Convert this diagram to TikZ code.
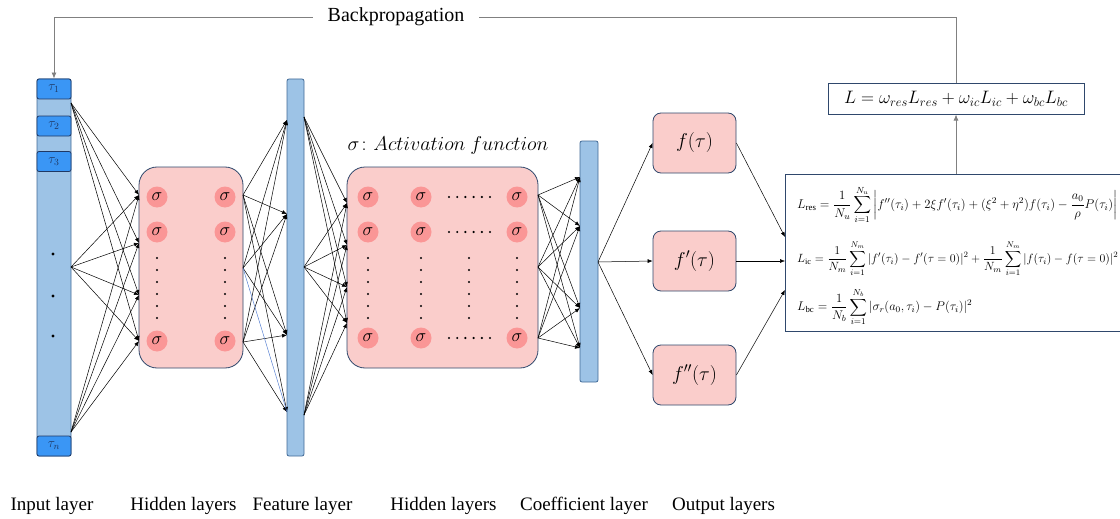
\RequirePackage{fix-cm}
\documentclass[tikz,border=0pt]{standalone}
\usepackage{amsmath}
\usepackage{graphicx}
\usepackage{fontspec}
\setmainfont{Liberation Serif}
\usetikzlibrary{arrows.meta,calc}
\definecolor{barfill}{RGB}{157,195,230}
\definecolor{bardraw}{RGB}{65,105,150}
\definecolor{taufill}{RGB}{58,150,245}
\definecolor{taudraw}{RGB}{31,56,100}
\definecolor{pinkfill}{RGB}{250,205,203}
\definecolor{sigfill}{RGB}{250,150,150}
\definecolor{navy}{RGB}{47,72,108}
\definecolor{bpgray}{RGB}{128,128,128}
\definecolor{linkblue}{RGB}{90,130,210}
\begin{document}
\begin{tikzpicture}[x=1pt,y=-1pt,
 arr/.style={-{Latex[length=5pt,width=4pt]}, line width=0.5pt, black},
 garr/.style={-{Latex[length=6pt,width=5pt]}, line width=0.8pt, bpgray},
 bar/.style={draw=bardraw, fill=barfill, line width=0.8pt, rounded corners=2pt, inner sep=0pt},
 taubox/.style={draw=taudraw, fill=taufill, line width=0.8pt, rounded corners=2pt, minimum width=34pt, minimum height=20pt, inner sep=0pt, font=\fontsize{13.5}{13.5}\selectfont, text=taudraw},
 hbox/.style={draw=navy, fill=pinkfill, line width=0.8pt, rounded corners=18pt, inner sep=0pt},
 sig/.style={circle, fill=sigfill, minimum size=21pt, inner sep=0pt, font=\fontsize{18}{18}\selectfont},
 outbox/.style={draw=navy, fill=pinkfill, line width=0.8pt, rounded corners=8pt, minimum width=83pt, minimum height=60pt, inner sep=0pt, font=\fontsize{20}{20}\selectfont},
 eq/.style={anchor=west, inner sep=0pt, font=\fontsize{12.5}{12.5}\selectfont},
 lab/.style={font=\fontsize{19}{19}\selectfont, inner sep=0pt}
]
\useasboundingbox (0,0) rectangle (1120,519);
\clip (0,0) rectangle (1120,519);

% ---------- input layer ----------
\node[bar, minimum width=34pt, minimum height=377pt] (in) at (54,267.5) {};
\node[taubox] (t1) at (54,89) {$\tau_1$};
\node[taubox] (t2) at (54,126) {$\tau_2$};
\node[taubox] (t3) at (54,161.5) {$\tau_3$};
\node[taubox] (tn) at (54,446) {$\tau_n$};
\foreach \y in {254,296,336} \fill (53,\y) circle (1.6);

\coordinate (i1) at (71,103);
\coordinate (i2) at (71,267);
\coordinate (i3) at (71,432);

% ---------- hidden block 1 ----------
\node[hbox, minimum width=104pt, minimum height=201pt] (h1) at (191,267.5) {};
\foreach \c/\x in {1/157,2/225}
  \foreach \r/\y in {1/197,2/232,3/341}
    \node[sig] (sa\c\r) at (\x,\y) {$\sigma$};
\foreach \x in {157,225}
  \foreach \k in {0,...,5}
    \fill (\x,258+12*\k) circle (1.2);

\coordinate (a1) at (139,195);
\coordinate (a2) at (139,243);
\coordinate (a3) at (139,295);
\coordinate (a4) at (139,341);
\foreach \s in {i1,i2,i3}
  \foreach \t in {a1,a2,a3,a4}
    \draw[arr] (\s) -- (\t);

% ---------- feature layer ----------
\node[bar, minimum width=17pt, minimum height=377pt] (feat) at (295.5,267.5) {};
\coordinate (b1) at (243,195);
\coordinate (b2) at (243,268);
\coordinate (b3) at (243,342);
\coordinate (c1) at (287,120);
\coordinate (c2) at (287,214);
\coordinate (c3) at (287,335);
\coordinate (c4) at (287,412);
\foreach \s in {b1,b3}
  \foreach \t in {c1,c2,c3,c4}
    \draw[arr] (\s) -- (\t);
\foreach \t in {c1,c2,c3}
  \draw[arr] (b2) -- (\t);
\draw[line width=0.5pt, linkblue] (b2) -- (c4);

% ---------- hidden block 2 ----------
\node[hbox, minimum width=191pt, minimum height=201pt] (h2) at (442.5,267.5) {};
\node[font=\fontsize{20}{20}\selectfont] (act) at (448,145) {$\sigma\colon Activation\ function$};
\foreach \c/\x in {1/368,2/421,3/517}
  \foreach \r/\y in {1/197,2/232,3/338}
    \node[sig] (sb\c\r) at (\x,\y) {$\sigma$};
\foreach \y in {197,232,338}
  \foreach \k in {0,...,5}
    \fill (449+8.2*\k,\y) circle (1.2);
\foreach \x in {368,421,469,517}
  \foreach \k in {0,...,5}
    \fill (\x,258+12*\k) circle (1.2);

\coordinate (d1) at (304,117);
\coordinate (d2) at (304,267);
\coordinate (d3) at (304,415);
\coordinate (e1) at (347,203);
\coordinate (e2) at (347,245);
\coordinate (e3) at (347,287);
\coordinate (e4) at (347,323);
\foreach \s in {d1,d2,d3}
  \foreach \t in {e1,e2,e3,e4}
    \draw[arr] (\s) -- (\t);

% ---------- coefficient layer ----------
\node[bar, minimum width=18pt, minimum height=241pt] (coef) at (589,261.5) {};
\coordinate (g1) at (538,195);
\coordinate (g2) at (538,267);
\coordinate (g3) at (538,338);
\coordinate (k1) at (580,177);
\coordinate (k2) at (580,226);
\coordinate (k3) at (580,308);
\coordinate (k4) at (580,348);
\foreach \s in {g1,g2,g3}
  \foreach \t in {k1,k2,k3,k4}
    \draw[arr] (\s) -- (\t);

% ---------- output layers ----------
\node[outbox] (f0) at (694.5,143) {$f(\tau)$};
\node[outbox] (f1) at (694.5,261) {$f'(\tau)$};
\node[outbox] (f2) at (694.5,375) {$f''(\tau)$};
\coordinate (co) at (598,262);
\draw[arr] (co) -- (f0.west);
\draw[arr] (co) -- (f1.west);
\draw[arr] (co) -- (f2.west);

% ---------- loss ----------
\node[draw=navy, line width=1pt, fill=white, minimum width=350pt, minimum height=157pt, inner sep=0pt] (loss) at (960,252.5) {};
\coordinate (l1) at (785,237);
\coordinate (l2) at (785,261);
\coordinate (l3) at (785,290);
\draw[arr] (f0.east) -- (l1);
\draw[arr] (f1.east) -- (l2);
\draw[arr] (f2.east) -- (l3);

\node[eq] (eres) at (797,205) {\resizebox{320pt}{!}{$\displaystyle L_{\mathrm{res}}=\frac{1}{N_u}\sum_{i=1}^{N_u}\left|f''(\tau_i)+2\xi f'(\tau_i)+(\xi^2+\eta^2)f(\tau_i)-\frac{a_0}{\rho}P(\tau_i)\right|$}};
\node[eq] (eic) at (797,259) {\resizebox{321pt}{!}{$\displaystyle L_{\mathrm{ic}}=\frac{1}{N_m}\sum_{i=1}^{N_m}|f'(\tau_i)-f'(\tau=0)|^2+\frac{1}{N_m}\sum_{i=1}^{N_m}|f(\tau_i)-f(\tau=0)|^2$}};
\node[eq] (ebc) at (797,307) {\resizebox{175pt}{!}{$\displaystyle L_{\mathrm{bc}}=\frac{1}{N_b}\sum_{i=1}^{N_b}|\sigma_r(a_0,\tau_i)-P(\tau_i)|^2$}};

\node[draw=navy, line width=1pt, minimum width=256pt, minimum height=30pt, inner sep=0pt, font=\fontsize{18}{18}\selectfont] (Lt) at (956,99) {$L=\omega_{res}L_{res}+\omega_{ic}L_{ic}+\omega_{bc}L_{bc}$};
\draw[garr] (Lt.south |- loss.north) -- (Lt.south);

% ---------- backpropagation ----------
\coordinate (bpr) at (956,17);
\coordinate (bpl) at (54,17);
\draw[garr] (Lt.north) -- (bpr) -- (bpl) -- (t1.north);
\node[fill=white, inner xsep=15pt, inner ysep=2pt, font=\fontsize{20}{20}\selectfont] (bp) at (396,17) {Backpropagation};

% ---------- bottom labels ----------
\node[lab] (L1) at (52,506) {Input layer};
\node[lab] (L2) at (183.5,506) {Hidden layers};
\node[lab] (L3) at (302.5,506) {Feature layer};
\node[lab] (L4) at (443.5,506) {Hidden layers};
\node[lab] (L5) at (584,506) {Coefficient layer};
\node[lab] (L6) at (723.5,506) {Output layers};
\end{tikzpicture}
\end{document}
